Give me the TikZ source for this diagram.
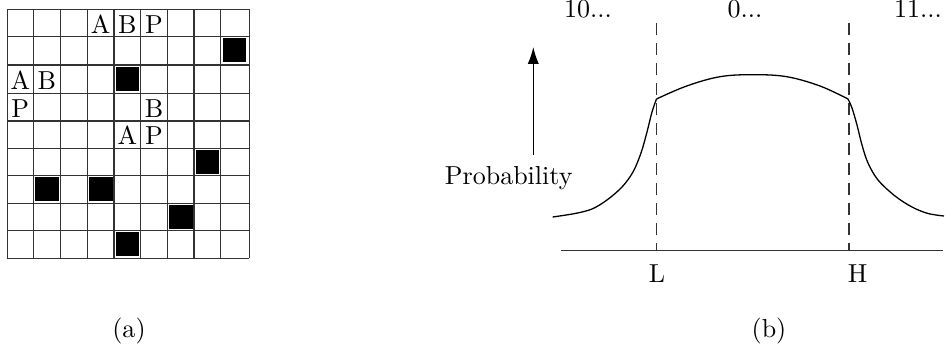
\documentclass[tikz,border=0pt]{standalone}
\usetikzlibrary{arrows.meta}
\begin{document}
\begin{tikzpicture}[x=0.3846pt,y=-0.3846pt,
  gridline/.style={draw=black!80,line width=0.5pt},
  blk/.style={fill=black},
  cellltr/.style={anchor=base,inner sep=0pt},
  lbl/.style={anchor=base,inner sep=0pt},
  guide/.style={draw=black!80,line width=0.6pt,dash pattern=on 4.6pt off 3.1pt},
  axisline/.style={draw=black!80,line width=0.55pt},
  curveline/.style={draw=black,line width=0.5pt},
  uparrow/.style={draw=black,line width=0.5pt,-{Latex[length=6.5pt,width=4.3pt]}},
]
\useasboundingbox (0,0) rectangle (945,345);

% ---------- (a) grid ----------
\foreach \x in {7.3,33.3,60.3,87.3,114,140.7,167.3,194,220.7,249.3}
  \draw[gridline] (\x,9.3) -- (\x,258.3);
\foreach \y in {9.3,36.7,65,93.3,121,148.3,175.7,203.3,230.7,258.3}
  \draw[gridline] (7.3,\y) -- (249.3,\y);

% black squares
\foreach \x/\y in {220.7/36.7, 114/65, 194/148.3, 33.3/175.7, 87.3/175.7, 167.3/203.3, 114/230.7}
  \fill[blk] (\x+1.8,\y+1.8) rectangle (\x+25.2,\y+25.8);

% letters
\node[cellltr] (r0a) at (100.65,33.3) {A};
\node[cellltr] (r0b) at (127.35,33.3) {B};
\node[cellltr] (r0p) at (154,33.3) {P};
\node[cellltr] (r2a) at (20.3,89.9) {A};
\node[cellltr] (r2b) at (46.8,89.9) {B};
\node[cellltr] (r3p) at (20.3,117.6) {P};
\node[cellltr] (r3b) at (154,117.6) {B};
\node[cellltr] (r4a) at (127.35,144.9) {A};
\node[cellltr] (r4p) at (154,144.9) {P};

\node[lbl] (capa) at (129,338) {(a)};

% ---------- (b) chart ----------
\node[lbl] (t10) at (588,18) {10...};
\node[lbl] (t0) at (745,18) {0...};
\node[lbl] (t11) at (918,18) {11...};

\coordinate (ltop) at (656.7,23);
\coordinate (lbot) at (656.7,250.7);
\coordinate (htop) at (849,23);
\coordinate (hbot) at (849,250.7);
\coordinate (axl) at (560.7,250.7);
\coordinate (axr) at (943,250.7);

\draw[axisline] (axl) -- (axr);
\draw[guide] (ltop) -- (lbot);
\draw[guide] (htop) -- (hbot);

\node[lbl] (lL) at (657,283) {L};
\node[lbl] (lH) at (857.5,283) {H};

\node[lbl] (prob) at (508.7,185) {Probability};
\coordinate (pbot) at (533.3,155);
\coordinate (ptop) at (533.3,47);
\draw[uparrow] (pbot) -- (ptop);

% curve
\draw[curveline] plot[smooth,tension=0.55] coordinates {
  (552.7,217) (575,213.5) (592,209) (607,200) (622,187)
  (633,172) (641,153) (647,132) (652,112) (656.5,99)};
\draw[curveline] plot[smooth,tension=0.6] coordinates {
  (656.5,99) (686.7,86) (720,76.7) (753.3,74.7) (786.7,76.7) (820,86) (848,99)};
\draw[curveline] plot[smooth,tension=0.55] coordinates {
  (848,99) (852,108) (857,125) (862,145) (868,163) (878,180)
  (895,196) (912,207) (928,213.5) (944,216)};

\node[lbl] (capb) at (769,338) {(b)};
\end{tikzpicture}
\end{document}
